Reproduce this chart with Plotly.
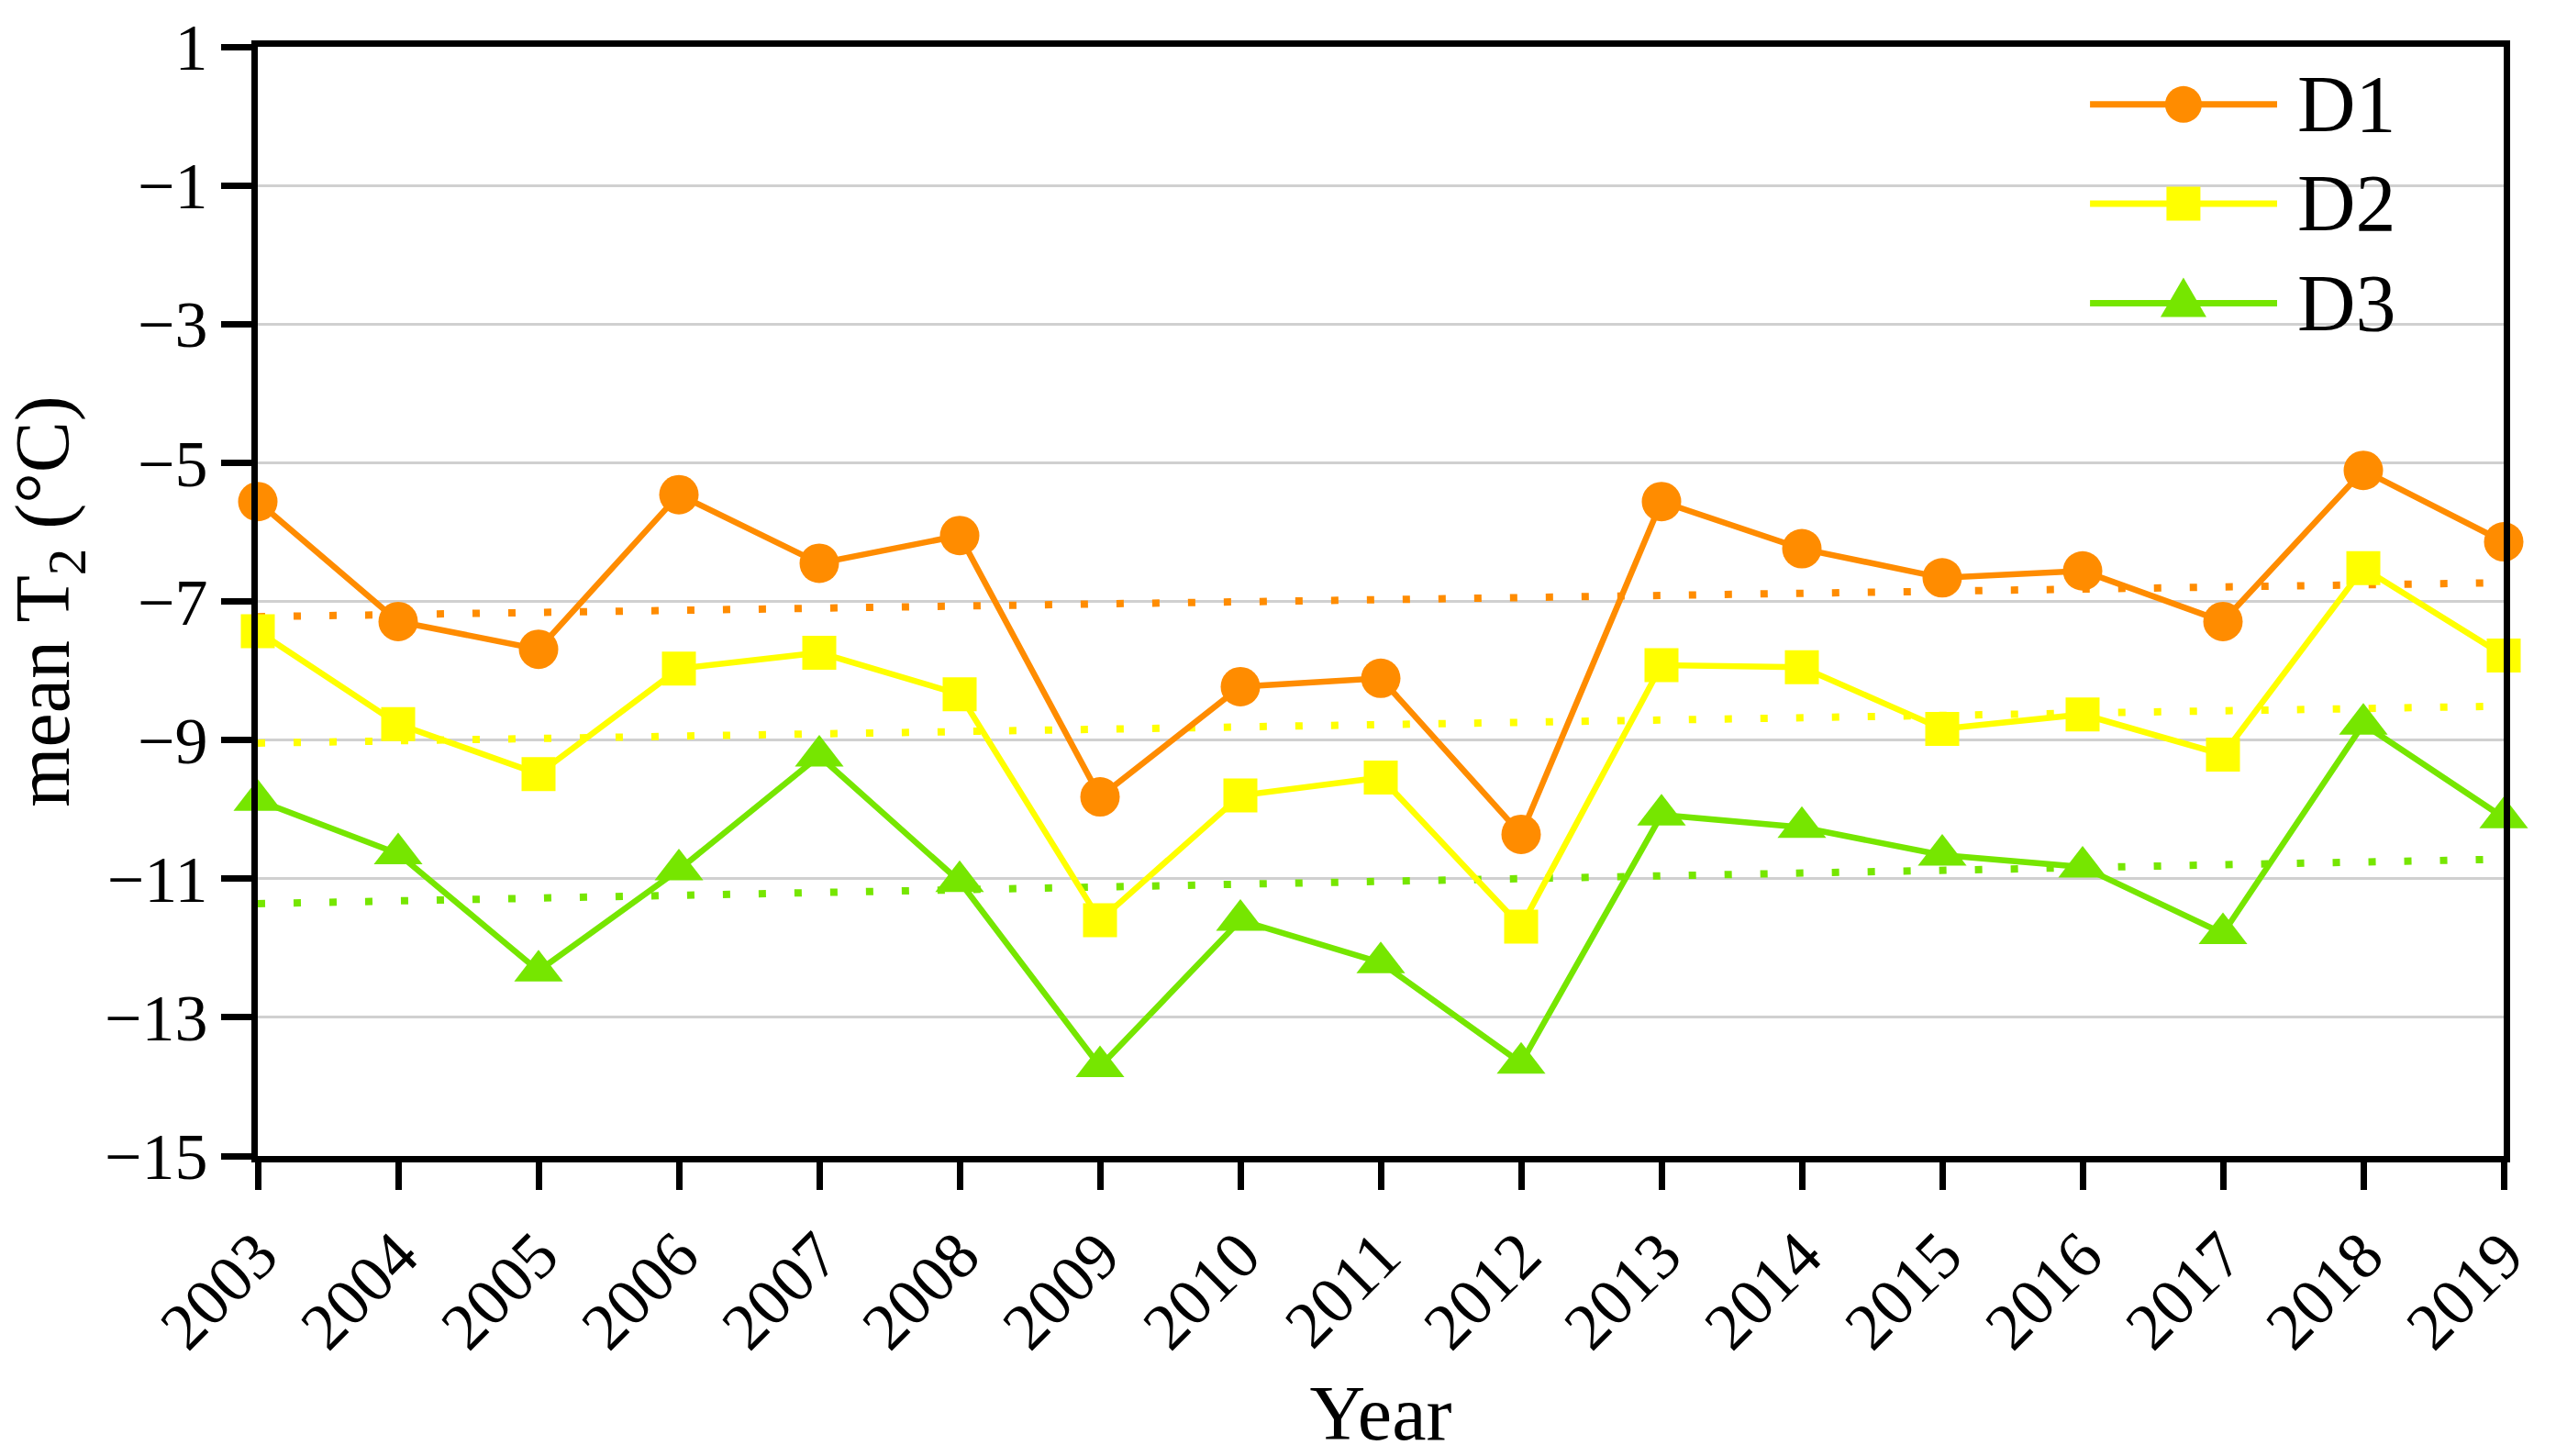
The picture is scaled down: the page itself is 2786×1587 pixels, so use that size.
import numpy as np
import plotly.graph_objects as go

years = list(range(2003, 2020))
d1 = [-5.56, -7.29, -7.69, -5.46, -6.45, -6.05, -9.82, -8.23, -8.11, -10.36,
      -5.56, -6.24, -6.66, -6.56, -7.29, -5.11, -6.14]
d2 = [-7.43, -8.77, -9.49, -7.97, -7.74, -8.34, -11.60, -9.80, -9.54, -11.69,
      -7.92, -7.95, -8.84, -8.63, -9.21, -6.52, -7.78]
d3 = [-9.87, -10.64, -12.33, -10.87, -9.23, -11.04, -13.71, -11.60, -12.21, -13.66,
      -10.08, -10.26, -10.66, -10.83, -11.79, -8.77, -10.12]
names = ["D1", "D2", "D3"]
colors = ["#FF8C00", "#FFFF00", "#76E600"]
symbols = ["circle", "square", "triangle-up"]
sizes = [43, 37, 46]
y_ticks = list(range(-15, 2, 2))

FONT = "Times New Roman, Liberation Serif, serif"

fig = go.Figure()
series = [d1, d2, d3]
# trend lines (linear fits of each series)
for vals, col in zip(series, colors):
    k, b = np.polyfit(years, vals, 1)
    fit = [k * x + b for x in years]
    fig.add_trace(go.Scatter(x=years, y=fit, mode="lines", showlegend=False,
                             line=dict(color=col, width=8, dash="8px,31px"),
                             hoverinfo="skip", cliponaxis=False))
for vals, nm, col, sym, sz in zip(series, names, colors, symbols, sizes):
    fig.add_trace(go.Scatter(x=years, y=vals, name=nm, mode="lines+markers",
                             showlegend=False,
                             line=dict(color=col, width=6.5),
                             marker=dict(symbol=sym, size=sz, color=col, line=dict(width=0)),
                             cliponaxis=False))

# legend drawn as layout decoration (native legend caps marker size)
leg_x0, leg_x1, leg_xc, leg_xt = 0.8158, 0.8991, 0.8574, 0.9073
leg_rows = [0.9480, 0.8586, 0.7689]
shapes = []
annotations = []
for nm, col, ly in zip(names, colors, leg_rows):
    shapes.append(dict(type="line", xref="paper", yref="paper", x0=leg_x0, x1=leg_x1,
                       y0=ly, y1=ly, line=dict(color=col, width=7), layer="above"))
    annotations.append(dict(text=nm, xref="paper", yref="paper", x=leg_xt, y=ly,
                            xanchor="left", yanchor="middle", showarrow=False,
                            font=dict(family=FONT, size=88, color="black")))
marker_shapes = [
    dict(type="circle", x0=-20, x1=20, y0=-20, y1=20),
    dict(type="rect", x0=-18.5, x1=18.5, y0=-18.5, y1=18.5),
    dict(type="path", path="M-25,-15 L25,-15 L0,28 Z"),
]
for ms, col, ly in zip(marker_shapes, colors, leg_rows):
    s = dict(ms)
    s.update(xref="paper", yref="paper", xsizemode="pixel", ysizemode="pixel",
             xanchor=leg_xc, yanchor=ly, fillcolor=col, line=dict(width=0), layer="above")
    shapes.append(s)

fig.update_layout(
    width=2786, height=1587,
    margin=dict(l=281, r=57, t=46, b=325),
    paper_bgcolor="white", plot_bgcolor="white",
    font=dict(family=FONT, color="black", size=72),
    showlegend=False,
    shapes=shapes,
    annotations=annotations,
)
fig.update_xaxes(
    range=[2003, 2019], tickmode="array", tickvals=years,
    ticktext=[str(y) for y in years], tickangle=-45,
    ticks="outside", ticklen=30, tickwidth=7, tickcolor="black",
    showline=True, linecolor="black", linewidth=7, mirror=True,
    showgrid=False, zeroline=False,
    tickfont=dict(family=FONT, size=72),
    title=dict(text="Year", font=dict(family=FONT, size=84), standoff=30),
)
fig.update_yaxes(
    range=[-15, 1], tickmode="array", tickvals=y_ticks,
    ticks="outside", ticklen=33, tickwidth=7, tickcolor="black",
    showline=True, linecolor="black", linewidth=7, mirror=True,
    showgrid=True, gridcolor="#D0D0D0", gridwidth=3, zeroline=False,
    tickfont=dict(family=FONT, size=72),
    title=dict(text="mean T<sub>2</sub> (°C)", font=dict(family=FONT, size=84), standoff=25),
)

fig.write_html(
    "out.html",
    config={"displayModeBar": False},
    post_script="document.body.style.margin='0';document.body.style.overflow='hidden';",
)
